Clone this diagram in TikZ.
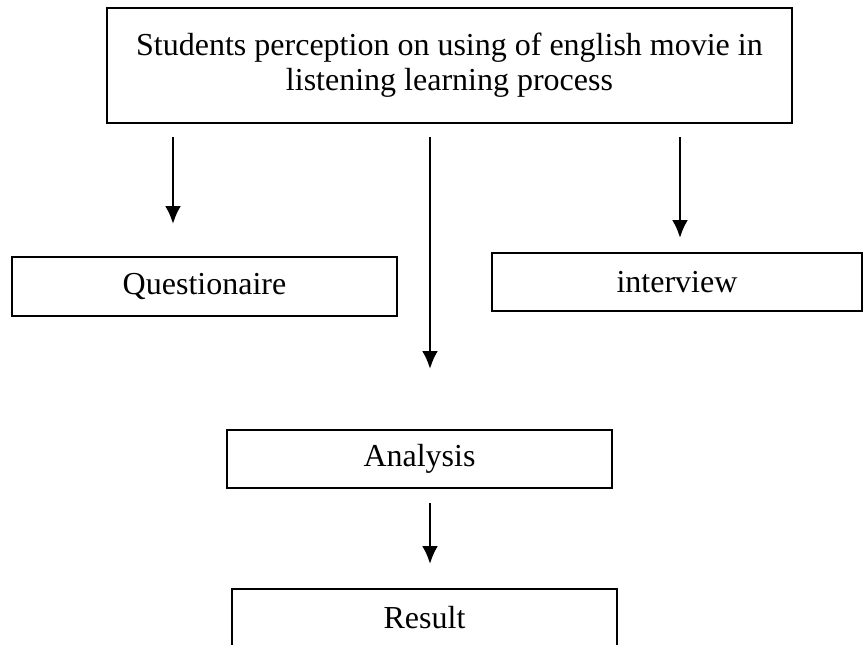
\documentclass[tikz,border=0pt]{standalone}
\usepackage{fontspec}
\setmainfont{Liberation Serif}
\usetikzlibrary{arrows.meta}

\begin{document}
\begin{tikzpicture}[x=0.5pt,y=-0.5pt]
      \tikzset { block/.style = { shape=rectangle,draw,line width=0.75pt,inner sep=0pt,font=\fontsize{16}{17.5}\selectfont,align=center } }
      \tikzset { edge/.style = { ->,> = {Latex[length=9pt,width=8pt]},line width=1.3pt } }

      \useasboundingbox (0,0) rectangle (864,644);
      \clip (0,0) rectangle (864,644);

      \node[block,minimum width=342.5pt,minimum height=57.5pt] (top) at (449.5,65.5) {Students perception on using of english movie in\\listening learning process};
      \node[block,minimum width=192.5pt,minimum height=29.5pt] (quest) at (204.5,286.5) {Questionaire};
      \node[block,minimum width=185pt,minimum height=29pt] (intv) at (677,282) {interview};
            \node[block,minimum width=192.5pt,minimum height=29pt] (anl) at (419.5,459) {Analysis};
      \node[block,minimum width=192.5pt,minimum height=29pt] (res) at (424.5,618) {Result};

      \coordinate (qs) at (173,137);
      \coordinate (qe) at (173,224);
      \coordinate (ms) at (430,137);
      \coordinate (me) at (430,369);
      \coordinate (is) at (680,137);
      \coordinate (ie) at (680,238);
      \coordinate (as) at (430,503);
      \coordinate (ae) at (430,564);

      \draw[edge] (qs) to (qe);
      \draw[edge] (ms) to (me);
      \draw[edge] (is) to (ie);
      \draw[edge] (as) to (ae);

    \end{tikzpicture}
\end{document}
